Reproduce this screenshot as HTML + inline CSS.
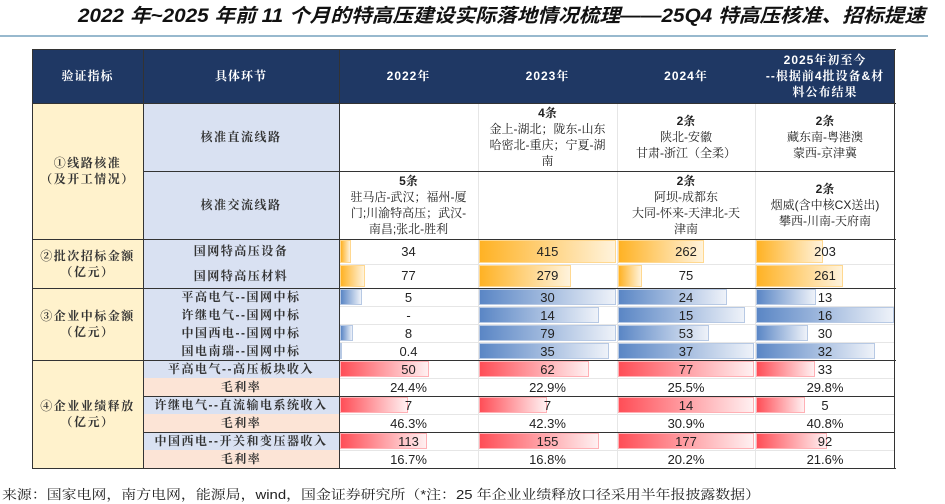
<!DOCTYPE html>
<html><head><meta charset="utf-8">
<style>
html,body{margin:0;padding:0;background:#fff;}
body{width:945px;height:504px;position:relative;overflow:hidden;font-family:"Liberation Sans","Noto Serif CJK SC","Noto Sans CJK SC",sans-serif;}
.c{position:absolute;box-sizing:border-box;display:flex;align-items:center;justify-content:center;text-align:center;color:#222;font-size:12px;line-height:16px;}
.lab{font-family:"Liberation Sans","Noto Serif CJK SC",serif;font-weight:bold;letter-spacing:1.5px;color:#333;}
.hd{color:#fff;font-weight:bold;font-family:"Liberation Sans","Noto Serif CJK SC",serif;letter-spacing:1px;}
.bar{position:absolute;box-sizing:border-box;}
.val{position:absolute;font-size:13px;color:#222;text-align:center;display:flex;align-items:center;justify-content:center;}
.hl{position:absolute;height:1.5px;background:#333;}
.vl{position:absolute;width:1.5px;background:#333;}
.lhl{position:absolute;height:1px;background:#e6e6e6;}
.lvl{position:absolute;width:1px;background:#e6e6e6;}
</style></head>
<body>
<svg style="position:absolute;left:0;top:0" width="945" height="40">
<text x="78" y="22" textLength="847" lengthAdjust="spacingAndGlyphs" font-size="19" font-weight="bold" font-style="italic" font-family="Liberation Sans, Noto Sans CJK SC, sans-serif" fill="#111">2022 年~2025 年前 11 个月的特高压建设实际落地情况梳理——25Q4 特高压核准、招标提速</text>
<line x1="0" y1="36" x2="928" y2="36" stroke="#5b8fb0" stroke-width="1.2"/>
</svg>

<div id="tbl">
<div class="c hd" style="left:32px;top:49px;width:863px;height:54px;background:#1f3864;"></div>
<div class="c hd" style="left:32px;top:49px;width:111px;height:54px;">验证指标</div>
<div class="c hd" style="left:143px;top:49px;width:196px;height:54px;">具体环节</div>
<div class="c hd" style="left:339px;top:49px;width:139px;height:54px;">2022年</div>
<div class="c hd" style="left:478px;top:49px;width:139px;height:54px;">2023年</div>
<div class="c hd" style="left:617px;top:49px;width:138px;height:54px;">2024年</div>
<div class="c hd" style="left:755px;top:49px;width:140px;height:54px;">2025年初至今<br>--根据前4批设备&amp;材<br>料公布结果</div>

<div class="c lab" style="left:32px;top:103px;width:111px;height:136px;background:#fff2cc;">①线路核准<br>（及开工情况）</div>
<div class="c lab" style="left:32px;top:239px;width:111px;height:49px;background:#fff2cc;">②批次招标金额<br>（亿元）</div>
<div class="c lab" style="left:32px;top:288px;width:111px;height:72px;background:#fff2cc;">③企业中标金额<br>（亿元）</div>
<div class="c lab" style="left:32px;top:360px;width:111px;height:108px;background:#fff2cc;">④企业业绩释放<br>（亿元）</div>

<div class="c lab" style="left:143px;top:103px;width:196px;height:68px;background:#d9e1f2;">核准直流线路</div>
<div class="c lab" style="left:143px;top:171px;width:196px;height:68px;background:#d9e1f2;">核准交流线路</div>

<div class="c" style="left:339px;top:103px;width:139px;height:68px;"></div>
<div class="c" style="left:478px;top:103px;width:139px;height:68px;"><div><b>4条</b><br>金上-湖北；陇东-山东<br>哈密北-重庆；宁夏-湖<br>南</div></div>
<div class="c" style="left:617px;top:103px;width:138px;height:68px;"><div><b>2条</b><br>陕北-安徽<br>甘肃-浙江（全柔）</div></div>
<div class="c" style="left:755px;top:103px;width:140px;height:68px;"><div><b>2条</b><br>藏东南-粤港澳<br>蒙西-京津冀</div></div>
<div class="c" style="left:339px;top:171px;width:139px;height:68px;"><div><b>5条</b><br>驻马店-武汉；福州-厦<br>门;川渝特高压；武汉-<br>南昌;张北-胜利</div></div>
<div class="c" style="left:478px;top:171px;width:139px;height:68px;"></div>
<div class="c" style="left:617px;top:171px;width:138px;height:68px;"><div><b>2条</b><br>阿坝-成都东<br>大同-怀来-天津北-天<br>津南</div></div>
<div class="c" style="left:755px;top:171px;width:140px;height:68px;"><div><b>2条</b><br>烟威(含中核CX送出)<br>攀西-川南-天府南</div></div>
</div>

<svg style="position:absolute;left:0;top:482px" width="945" height="22">
<line x1="0" y1="-2" x2="918" y2="-2" stroke="#5b8fb0" stroke-width="1.2"/>
<text x="2" y="17" textLength="758" lengthAdjust="spacingAndGlyphs" font-size="13" font-family="Liberation Sans, Noto Serif CJK SC, serif" fill="#222">来源：国家电网，南方电网，能源局，wind，国金证券研究所（*注：25 年企业业绩释放口径采用半年报披露数据）</text>
</svg>

<script>
// ---- data ----
const years = ['2022','2023','2024','2025'];
const rowLabels = ['国网特高压设备','国网特高压材料','平高电气--国网中标','许继电气--国网中标','中国西电--国网中标','国电南瑞--国网中标','平高电气--高压板块收入','毛利率','许继电气--直流输电系统收入','毛利率','中国西电--开关和变压器收入','毛利率'];
const equipValues = [34,415,262,203];
const materialValues = [77,279,75,261];
const pinggaoBid = [5,30,24,13];
const xujiBid = [null,14,15,16];
const xidianBid = [8,79,53,30];
const nanruiBid = [0.4,35,37,32];
const pinggaoRev = [50,62,77,33];
const pinggaoMargin = [24.4,22.9,25.5,29.8];
const xujiRev = [7,7,14,5];
const xujiMargin = [46.3,42.3,30.9,40.8];
const xidianRev = [113,155,177,92];
const xidianMargin = [16.7,16.8,20.2,21.6];

// ---- layout (not data) ----
const series = [equipValues,materialValues,pinggaoBid,xujiBid,xidianBid,nanruiBid,pinggaoRev,pinggaoMargin,xujiRev,xujiMargin,xidianRev,xidianMargin];
const kinds = ['o','o','b','b','b','b','r','p','r','p','r','p'];
const scaleKey = ['g2','g2','r2','r3','r4','r5','r6',null,'r8',null,'r10',null];
const rowH = [24.5,24.5,18,18,18,18,18,18,18,18,18,18];
const colX = [339,478,617,755,895];
const labelX = 143, labelW = 196;
const colors = {o:['#ffb224','#fff3dc','#ffd890'], b:['#5a86c5','#eef2f9','#b7c9e4'], r:['#ff4e57','#fff0f1','#ffb0b5']};
const body = document.body;

const maxes = {};
series.forEach((s,i)=>{ const k=scaleKey[i]; if(!k) return; const m=Math.max(...s.filter(v=>v!=null)); maxes[k]=Math.max(maxes[k]||0,m); });
function xScale(v,max,w){ return v/max*w; }

let y = 239;
series.forEach((s,i)=>{
  const h = rowH[i];
  const lab = document.createElement('div');
  lab.className='c lab';
  
  
  lab.style.cssText=`left:${labelX}px;top:${y}px;width:${labelW}px;height:${h}px;background:${kinds[i]==='p'?'#fce4d6':'#d9e1f2'};`;
  lab.textContent = rowLabels[i];
  body.appendChild(lab);
  s.forEach((v,j)=>{
    const x0 = colX[j], w = colX[j+1]-colX[j];
    if(kinds[i]!=='p' && v!=null){
      const bw = xScale(v, maxes[scaleKey[i]], w-1.5);
      const c = colors[kinds[i]];
      const b = document.createElement('div');
      b.className='bar';
      
      
      b.style.cssText=`left:${x0+0.5}px;top:${y+1}px;width:${Math.max(bw,1.5)}px;height:${h-2}px;background:linear-gradient(to right,${c[0]},${c[1]});border:1px solid ${c[2]};`;
      body.appendChild(b);
    }
    const t = document.createElement('div');
    t.className='val';
    
    
    t.style.cssText=`left:${x0}px;top:${y}px;width:${w}px;height:${h}px;`;
    t.textContent = v==null ? '-' : (kinds[i]==='p' ? v.toFixed(1)+'%' : String(v));
    body.appendChild(t);
  });
  y += h;
  if(i<series.length-1){
    const ln=document.createElement('div'); ln.className='lhl';
    
    
    ln.style.cssText=`left:339px;top:${y}px;width:556px;`;
    body.appendChild(ln);
  }
});

function hline(x,yy,w,cls){const d=document.createElement('div');d.className=cls||'hl';


d.style.cssText=`left:${x}px;top:${yy}px;width:${w}px;`;body.appendChild(d);}
function vline(x,yy,h,cls){const d=document.createElement('div');d.className=cls||'vl';


d.style.cssText=`left:${x}px;top:${yy}px;height:${h}px;`;body.appendChild(d);}
[478,617,755].forEach(x=>vline(x,103,365,'lvl'));
[49,103,239,288,360,468].forEach(yy=>hline(32,yy-0.5,864));
hline(143,170.5,752);
hline(143,395.5,752);hline(143,431.5,752);
[32,143,339,894].forEach(x=>vline(x-0.5,49,420));
</script>
</body></html>
